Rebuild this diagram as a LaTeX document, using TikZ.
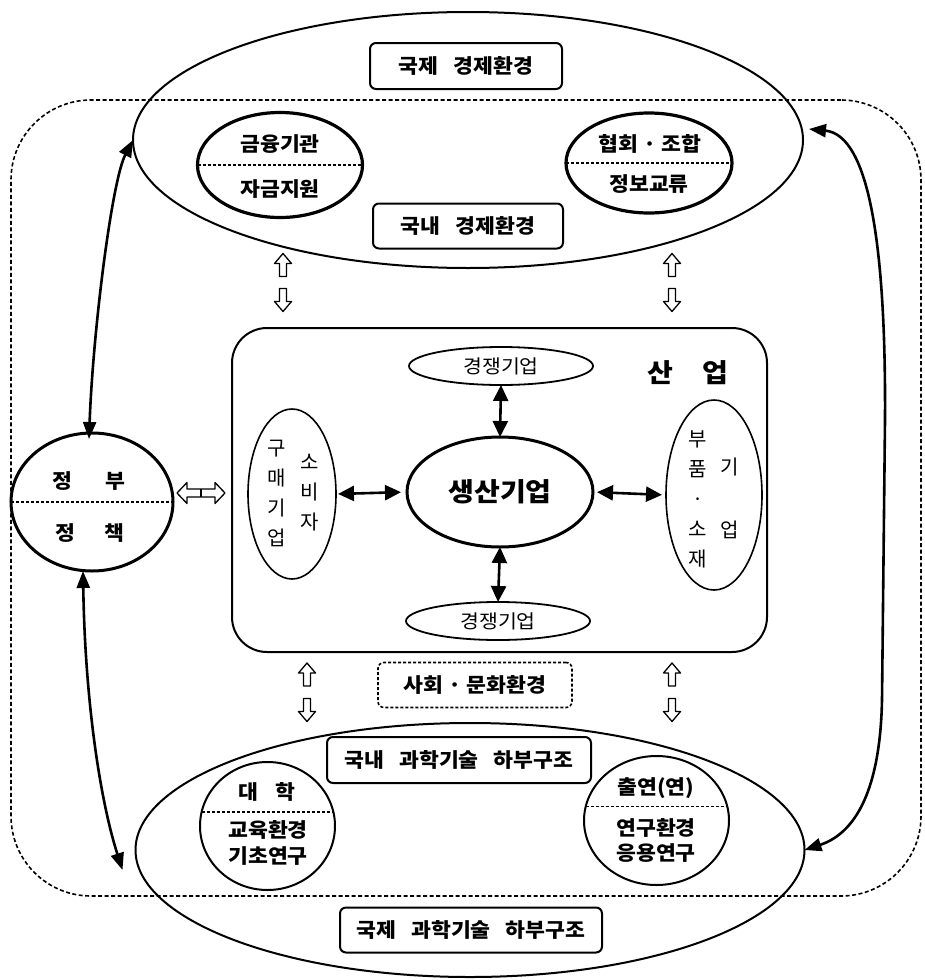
\documentclass[tikz,border=0pt]{standalone}
\usepackage{fontspec}
\setmainfont{Noto Sans CJK KR}
\newfontfamily\krwide[FakeStretch=1.08,WordSpace=3]{Noto Sans CJK KR}
\usetikzlibrary{shapes.geometric,arrows.meta,calc}

% type sizes (1 unit of the picture = 1pt)
\newcommand\dgbox{\krwide\fontsize{20}{24}\selectfont\bfseries}
\newcommand\dgbig{\krwide\fontsize{26}{30}\selectfont\bfseries}
\newcommand\dgcol{\fontsize{20}{30}\selectfont}
\newcommand\dgrival{\krwide\fontsize{19}{23}\selectfont}
\newcommand\dgdot{\hspace{5pt}·\hspace{5pt}}

\tikzset{
  every node/.style={inner sep=0pt,outer sep=0pt},
  ring/.style={draw,ellipse,line width=2pt},
  labelbox/.style={draw,rounded corners=6pt,line width=2pt,font=\dgbox},
  divider/.style={line width=1.4pt,dash pattern=on 3pt off 2pt},
  txt/.style={font=\dgbox},
  vcol/.style={align=center,font=\dgcol},
  longarrow/.style={line width=2.6pt,
    {Triangle[length=17pt,width=13pt]}-{Triangle[length=17pt,width=13pt]}},
  linkarrow/.style={line width=2.6pt,
    {Triangle[length=16pt,width=15pt]}-{Triangle[length=16pt,width=15pt]}},
  hollow/.style={line width=1.3pt,line join=round},
  hollow up/.pic={\draw[hollow] (-3.5,11.5) -- (-3.5,-1.5) -- (-8.5,-1.5) -- (0,-11.5)
      -- (8.5,-1.5) -- (3.5,-1.5) -- (3.5,11.5) -- cycle;},
  hollow down/.pic={\draw[hollow] (-3.5,-11.5) -- (-3.5,1.5) -- (-8.5,1.5) -- (0,11.5)
      -- (8.5,1.5) -- (3.5,1.5) -- (3.5,-11.5) -- cycle;},
  hollow both/.pic={\draw[hollow] (-24,0) -- (-14,-10.5) -- (-14,-4) -- (14,-4) -- (14,-10.5)
      -- (24,0) -- (14,10.5) -- (14,4) -- (-14,4) -- (-14,10.5) -- cycle;
      \draw[hollow] (0,-4) -- (0,4);}
}

\begin{document}
\begin{tikzpicture}[x=1pt,y=-1pt]
\useasboundingbox (0,0) rectangle (925,980);

% domestic frame
\node[draw,line width=1.6pt,dash pattern=on 4pt off 2.5pt,rounded corners=80pt,
      minimum width=910pt,minimum height=796pt] (frame) at (466,498) {};

% economic environment (top)
\node[ring,minimum width=670pt,minimum height=256pt] (intl) at (468,140) {};
\node[labelbox,minimum width=192pt,minimum height=46pt] (intlEcon) at (466,66) {국제 경제환경};
\node[labelbox,minimum width=190pt,minimum height=45pt] (domEcon) at (468,226) {국내 경제환경};

\node[ring,line width=3.2pt,minimum width=165pt,minimum height=105pt] (finance) at (280,165) {};
\draw[divider] (finance.west) -- (finance.east);
\node[txt] (financeA) at (280,144) {금융기관};
\node[txt] (financeB) at (280,189) {자금지원};

\node[ring,line width=3.2pt,minimum width=166pt,minimum height=100pt] (assoc) at (649,163) {};
\draw[divider] (assoc.west) -- (assoc.east);
\node[txt] (assocA) at (650,144) {협회\dgdot 조합};
\node[txt] (assocB) at (649,184) {정보교류};

% science & technology infrastructure (bottom)
\node[ring,minimum width=669pt,minimum height=254pt] (infra) at (470,850) {};
\node[labelbox,minimum width=264pt,minimum height=46pt] (domSci) at (459,760) {국내 과학기술 하부구조};
\node[labelbox,minimum width=262pt,minimum height=45pt] (intlSci) at (471,930) {국제 과학기술 하부구조};

\node[ring,minimum width=135pt,minimum height=128pt] (univ) at (267.5,826) {};
\draw[divider] ($(univ.center)+(-66,-14)$) -- ($(univ.center)+(66,-14)$);
\node[txt] (univA) at (267,792) {대\hspace{18pt}학};
\node[txt] (univB) at (268,830) {교육환경};
\node[txt] (univC) at (268,856) {기초연구};

\node[ring,minimum width=145pt,minimum height=129pt] (inst) at (656.5,820.5) {};
\draw[divider] ($(inst.center)+(-71,-14)$) -- ($(inst.center)+(71,-14)$);
\node[txt] (instA) at (656,788) {출연(연)};
\node[txt] (instB) at (656,828) {연구환경};
\node[txt] (instC) at (656,853) {응용연구};

% social and cultural environment
\node[labelbox,dash pattern=on 3pt off 2pt,line width=1.6pt,
      minimum width=194pt,minimum height=45pt] (culture) at (475,685) {사회\dgdot 문화환경};

% government
\node[ring,line width=3pt,minimum width=162pt,minimum height=138pt] (gov) at (92,502) {};
\draw[divider] (gov.west) -- (gov.east);
\node[txt] (govA) at (89,481) {정\hspace{34pt}부};
\node[txt] (govB) at (90,533) {정\hspace{30pt}책};

% industry
\node[draw,line width=2pt,rounded corners=35pt,minimum width=535pt,minimum height=324pt]
      (industry) at (499.5,490) {};
\node[font=\dgbig] (industryT) at (688,373) {산\hspace{30pt}업};

\node[draw,ellipse,line width=3pt,minimum width=186pt,minimum height=110pt,font=\dgbig]
      (producer) at (500,492) {생산기업};
\node[ring,line width=1.8pt,minimum width=184pt,minimum height=38pt,font=\dgrival]
      (rivalTop) at (501,366) {경쟁기업};
\node[ring,line width=1.8pt,minimum width=184pt,minimum height=38pt,font=\dgrival]
      (rivalBot) at (498,621) {경쟁기업};

\node[ring,line width=1.6pt,minimum width=88pt,minimum height=170pt] (buyer) at (292,494) {};
\node[vcol] (buyerA) at (277,493) {구\\매\\기\\업};
\node[vcol] (buyerB) at (310,493) {소\\비\\자};

\node[ring,line width=1.6pt,minimum width=96pt,minimum height=190pt] (parts) at (714,495) {};
\node[vcol] (partsA) at (698,499) {부\\품\\·\\소\\재};
\node[vcol] (partsB) at (730,498.5) {기\\[33pt]업};

% links inside the industry
\draw[linkarrow,shorten <=2pt,shorten >=6pt] (buyer.east) -- (producer.west);
\draw[linkarrow,shorten <=4pt,shorten >=4pt] (producer.east) -- (parts.west);
\draw[linkarrow] (rivalTop.south) -- (producer.north);
\draw[linkarrow] (producer.south) -- (rivalBot.north);

% hollow exchange arrows
\pic at (283,265) {hollow up};
\pic at (283,300) {hollow down};
\pic at (672,265) {hollow up};
\pic at (672,300) {hollow down};
\pic at (307,674.5) {hollow up};
\pic at (307,710) {hollow down};
\pic at (672,674.5) {hollow up};
\pic at (672,710) {hollow down};
\pic at (201,493) {hollow both};

% long links
\draw[longarrow] ([shift={(-3,6)}]gov.north) .. controls (93,330) and (112,180) .. (intl.west);
\draw[longarrow] ([xshift=-9pt]gov.south) .. controls (85,700) and (100,800)
      .. ([shift={(-13,20)}]infra.west);
\draw[longarrow] ([shift={(6,-11)}]intl.east) .. controls (870,135) and (886,250) .. (885,420)
      -- (882,700) .. controls (880,800) and (850,835) .. (infra.east);
\end{tikzpicture}
\end{document}
